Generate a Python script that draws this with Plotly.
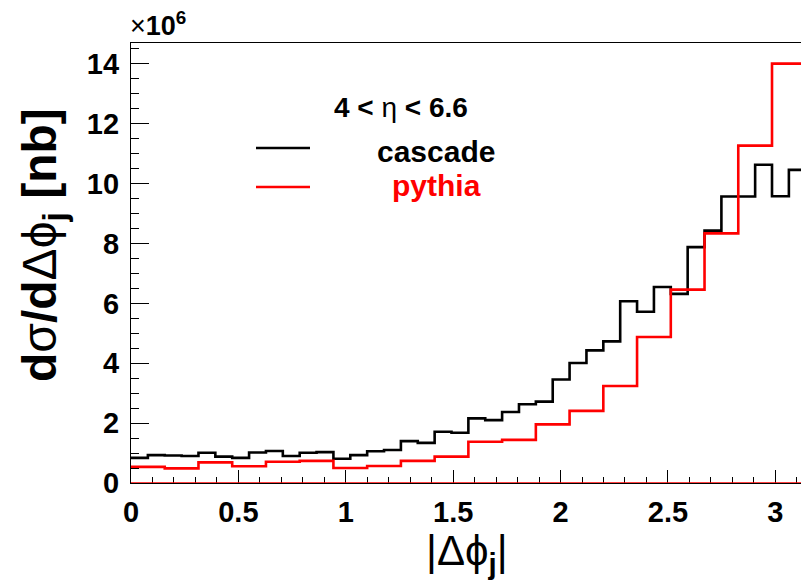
import numpy as np
import plotly.graph_objects as go

# ---- data (units of 10^6 nb) ----
cascade_vals = [0.84, 0.93, 0.92, 0.90, 1.01, 0.88, 0.84, 1.02, 1.07, 0.90,
                1.01, 1.03, 0.81, 0.93, 1.06, 1.10, 1.40, 1.34, 1.71, 1.68,
                2.16, 2.10, 2.37, 2.63, 2.72, 3.46, 4.01, 4.43, 4.73, 6.07,
                5.72, 6.55, 6.32, 7.88, 8.43, 9.57, 9.57, 10.63, 9.58, 10.46]
pythia_vals = [0.54, 0.49, 0.69, 0.56, 0.71, 0.74, 0.50, 0.57, 0.74, 0.88,
               1.38, 1.44, 1.96, 2.41, 3.24, 4.88, 6.46, 8.34, 11.27, 14.01]
x_min, x_max = 0.0, np.pi
x_view = [0, 3.1195]
y_view = [0, 14.7]
x_tick_labels = ["0", "0.5", "1", "1.5", "2", "2.5", "3"]
x_tick_vals = [0, 0.5, 1, 1.5, 2, 2.5, 3]
y_tick_vals = [0, 2, 4, 6, 8, 10, 12, 14]
y_tick_labels = ["0", "2", "4", "6", "8", "10", "12", "14"]
series_names = ["cascade", "pythia"]

FONT = "Liberation Sans, Arial"

L, R, T, B = 131, 801, 43, 483
PW, PH = R - L, B - T


def px2paper_x(px):
    return (px - L) / PW


def px2paper_y(py):
    return (B - py) / PH


def step_xy(vals):
    edges = np.linspace(x_min, x_max, len(vals) + 1)
    return list(edges), list(vals) + [vals[-1]]


fig = go.Figure()
cx, cy = step_xy(cascade_vals)
px_, py_ = step_xy(pythia_vals)
fig.add_trace(go.Scatter(x=cx, y=cy, mode="lines", line_shape="hv",
                         line=dict(color="black", width=2.6), name=series_names[0],
                         showlegend=False))
fig.add_trace(go.Scatter(x=px_, y=py_, mode="lines", line_shape="hv",
                         line=dict(color="#ff0000", width=2.6), name=series_names[1],
                         showlegend=False))

fig.update_layout(
    width=801, height=584,
    margin=dict(l=L, r=801 - R, t=T, b=584 - B, autoexpand=False),
    paper_bgcolor="white", plot_bgcolor="white",
    showlegend=False,
    font=dict(family=FONT, color="black"),
)
fig.update_xaxes(
    range=x_view, showgrid=False, zeroline=False, automargin=False,
    showline=True, linecolor="black", linewidth=1.3, mirror=True,
    tickmode="array", tickvals=x_tick_vals, ticktext=[f"<b>{t}</b>" for t in x_tick_labels],
    ticks="inside", ticklen=13, tickwidth=1.3, tickcolor="black",
    minor=dict(dtick=0.1, tick0=0, ticks="inside", ticklen=6, tickwidth=1.3, tickcolor="black"),
    tickfont=dict(family=FONT, size=29, color="black"),
    ticklabelstandoff=3,
)
fig.update_yaxes(
    range=y_view, showgrid=False, zeroline=False, automargin=False,
    showline=True, linecolor="black", linewidth=1.3, mirror=False,
    tickmode="array", tickvals=y_tick_vals, ticktext=[f"<b>{t}</b>" for t in y_tick_labels],
    ticks="inside", ticklen=18, tickwidth=1.3, tickcolor="black",
    minor=dict(dtick=0.5, tick0=0, ticks="inside", ticklen=8, tickwidth=1.3, tickcolor="black"),
    tickfont=dict(family=FONT, size=29, color="black"),
    ticklabelstandoff=5,
)

# red baseline at y = 0
fig.add_shape(type="line", xref="paper", yref="y", x0=0, x1=1, y0=0, y1=0,
              line=dict(color="#ff0000", width=1.5))

# axis titles
fig.add_annotation(xref="paper", yref="paper", x=px2paper_x(43), y=px2paper_y(245),
                   textangle=-90,
                   text="<b>d</b>\u03c3<b>/d</b>\u0394\u03d5<sub><b>j</b></sub><b> [nb]</b>",
                   showarrow=False, font=dict(family=FONT, size=48, color="black"),
                   xanchor="center", yanchor="middle")
fig.add_annotation(xref="paper", yref="paper", x=px2paper_x(467), y=px2paper_y(553),
                   text="|\u0394\u03d5<sub><b>j</b></sub>|",
                   showarrow=False, font=dict(family=FONT, size=42, color="black"),
                   xanchor="center", yanchor="middle")
# exponent label
fig.add_annotation(xref="paper", yref="paper", x=px2paper_x(128), y=px2paper_y(24),
                   text="\u00d7<b>10<sup>6</sup></b>",
                   showarrow=False, font=dict(family=FONT, size=27, color="black"),
                   xanchor="left", yanchor="middle")

# legend-like text
fig.add_annotation(xref="paper", yref="paper", x=px2paper_x(401), y=px2paper_y(108),
                   text="<b>4 < </b>\u03b7<b> < 6.6</b>", showarrow=False,
                   font=dict(family=FONT, size=28, color="black"),
                   xanchor="center", yanchor="middle")
fig.add_annotation(xref="paper", yref="paper", x=px2paper_x(436), y=px2paper_y(151),
                   text=f"<b>{series_names[0]}</b>", showarrow=False,
                   font=dict(family=FONT, size=30, color="black"),
                   xanchor="center", yanchor="middle")
fig.add_annotation(xref="paper", yref="paper", x=px2paper_x(436), y=px2paper_y(186),
                   text=f"<b>{series_names[1]}</b>", showarrow=False,
                   font=dict(family=FONT, size=30, color="#ff0000"),
                   xanchor="center", yanchor="middle")
fig.add_shape(type="line", xref="paper", yref="paper",
              x0=px2paper_x(256), x1=px2paper_x(310),
              y0=px2paper_y(148), y1=px2paper_y(148),
              line=dict(color="black", width=2.6))
fig.add_shape(type="line", xref="paper", yref="paper",
              x0=px2paper_x(256), x1=px2paper_x(310),
              y0=px2paper_y(187), y1=px2paper_y(187),
              line=dict(color="#ff0000", width=2.6))

fig.write_html("out.html", config={"displayModeBar": False},
               post_script="document.body.style.margin='0px';document.body.style.overflow='hidden';")
